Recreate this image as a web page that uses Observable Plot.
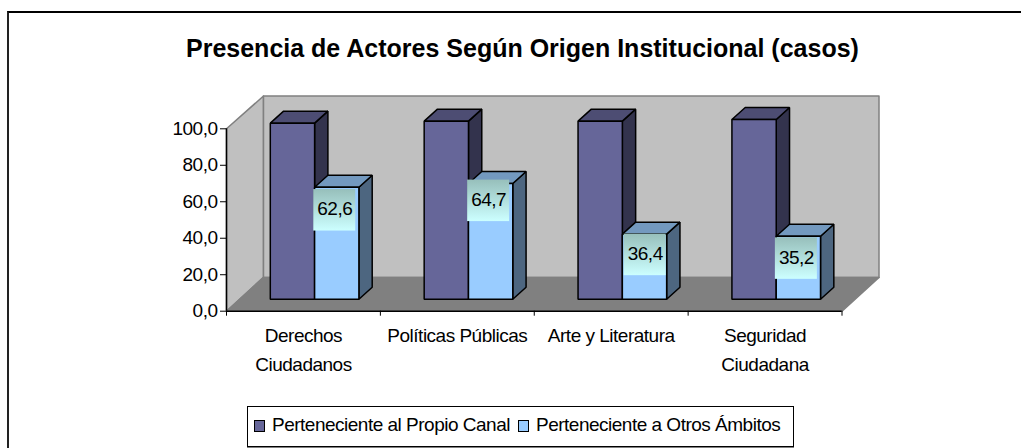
<!DOCTYPE html>
<html lang="es">
<head>
<meta charset="utf-8">
<script src="https://cdn.jsdelivr.net/npm/d3@7"></script>
<script src="https://cdn.jsdelivr.net/npm/@observablehq/plot@0.6"></script>
<style>
  html, body { margin: 0; padding: 0; background: #fff; width: 1021px; height: 448px; overflow: hidden; }
  body { position: relative; font-family: "Liberation Sans", Arial, sans-serif; color: #000; }
  #frame { position: absolute; left: 7px; top: 11px; right: -5px; bottom: -5px; border-left: 2px solid #222; border-top: 2px solid #000; }
  #chart { position: absolute; left: 0; top: 0; }
  #chart svg { letter-spacing: -0.5px; }
  #title { position: absolute; left: 186px; top: 33px; font-size: 25px; font-weight: bold; line-height: 30px; white-space: nowrap; }
  #legend { position: absolute; left: 247px; top: 406px; width: 545px; height: 39px; border: 1px solid #000; box-shadow: 0 1px 0 #808080; background: #fff; font-size: 19px; letter-spacing: -0.5px; line-height: 35px; white-space: nowrap; }
  #legend span { position: absolute; top: 0; }
  #legend i { position: absolute; top: 13px; width: 9px; height: 10px; border: 1.5px solid #000; }
</style>
</head>
<body>
<div id="frame"></div>
<div id="chart"></div>
<div id="title"></div>
<div id="legend"></div>
<script>
const chartTitle = "Presencia de Actores Según Origen Institucional (casos)";
const categories = ["Derechos\nCiudadanos", "Políticas Públicas", "Arte y Literatura", "Seguridad\nCiudadana"];
const seriesNames = ["Perteneciente al Propio Canal", "Perteneciente a Otros Ámbitos"];
const propioCanal = [98.5, 99.6, 99.6, 100.5];
const otrosAmbitos = [62.6, 64.7, 36.4, 35.2];
const yTicks = [0, 20, 40, 60, 80, 100];

// Layout of the pseudo-3D box, in units of the x (category) and y (value) scales
const pxX = 153.875, pxY = 1.824;
const barLeft = 43.8 / pxX, barW = 44.3 / pxX;
const depthX = 13.3 / pxX, depthY = 12 / pxY;   // bar depth
const wallX = 37 / pxX, wallY = 33.8 / pxY;     // box depth
const wallTop = 118;
const foreshorten = 0.98;
const colors = [
  { front: "#666699", side: "#33334d", top: "#4d4d73" },
  { front: "#99ccff", side: "#4d6680", top: "#7399bf" }
];
const labelShiftX = [-2, -2, 0.7, -2].map(d => d / pxX);
const labelShiftY = [23, 17.3, 20.8, 22.3].map(d => d / pxY);
const labelW = 42 / pxX, labelH = 41.5 / pxY;

const front = v => depthY + v * foreshorten;

function poly(rows, id, fill, pts) { pts.forEach(([x, y]) => rows.push({ id, fill, x, y })); }

const barFaces = [];
[propioCanal, otrosAmbitos].forEach((vals, s) => {
  vals.forEach((v, i) => {
    const x0 = i + barLeft + s * barW, x1 = x0 + barW, y0 = front(0), y1 = front(v), c = colors[s];
    poly(barFaces, `${i}-${s}-side`, c.side, [[x1, y0], [x1 + depthX, y0 + depthY], [x1 + depthX, y1 + depthY], [x1, y1]]);
    poly(barFaces, `${i}-${s}-top`, c.top, [[x0, y1], [x0 + depthX, y1 + depthY], [x1 + depthX, y1 + depthY], [x1, y1]]);
    poly(barFaces, `${i}-${s}-front`, c.front, [[x0, y0], [x1, y0], [x1, y1], [x0, y1]]);
  });
});
// series drawn group by group: each category's first bar, then its second
const orderedFaces = d3.sort(barFaces, d => +d.id.split("-")[0] * 2 + +d.id.split("-")[1]);

const walls = [];
poly(walls, "left", "#c0c0c0", [[0, 0], [wallX, wallY], [wallX, wallTop], [0, 100]]);
poly(walls, "back", "#c0c0c0", [[wallX, wallY], [4 + wallX, wallY], [4 + wallX, wallTop], [wallX, wallTop]]);
poly(walls, "floor", "#808080", [[0, 0], [4, 0], [4 + wallX, wallY], [wallX, wallY]]);

const labels = otrosAmbitos.map((v, i) => {
  const cx = i + barLeft + 1.5 * barW + labelShiftX[i];
  const cy = front(v) - labelShiftY[i];
  return { i, v, cx, cy };
});

const gradient = () => {
  const ns = "http://www.w3.org/2000/svg";
  const defs = document.createElementNS(ns, "defs");
  defs.innerHTML = '<linearGradient id="lbl" x1="0" y1="0" x2="0" y2="1"><stop offset="0" stop-color="#97bfbb"/><stop offset="1" stop-color="#ccffff"/></linearGradient>';
  return defs;
};

const plot = Plot.plot({
  width: 1021, height: 448,
  marginLeft: 226, marginRight: 179.5, marginTop: 128.3, marginBottom: 137.3,
  style: { background: "transparent", fontFamily: "'Liberation Sans', Arial, sans-serif" },
  x: { type: "linear", domain: [0, 4], axis: null },
  y: { domain: [0, 100], axis: null },
  marks: [
    gradient,
    Plot.line(walls, { x: "x", y: "y", z: "id", fill: "fill", stroke: "#808080", strokeWidth: 1.5, curve: "linear-closed" }),
    Plot.line(orderedFaces, { x: "x", y: "y", z: "id", fill: "fill", stroke: "#000", strokeWidth: 1.5, strokeLinejoin: "miter", curve: "linear-closed" }),
    Plot.rect(labels, { x1: d => d.cx - labelW / 2, x2: d => d.cx + labelW / 2, y1: d => d.cy - labelH / 2, y2: d => d.cy + labelH / 2, fill: "url(#lbl)" }),
    Plot.text(labels, { x: "cx", y: "cy", text: d => d.v.toFixed(1).replace(".", ","), fontSize: 19, fill: "#000", dy: -1 }),
    Plot.ruleY([0], { x1: 0, x2: 4, stroke: "#000", strokeWidth: 1.5 }),
    Plot.ruleX([0], { y1: 0, y2: 100, stroke: "#000", strokeWidth: 1.5 }),
    Plot.ruleX(d3.range(5), { x: d => d, y1: 0, y2: -5 / pxY, stroke: "#000" }),
    Plot.axisY({ ticks: yTicks, tickFormat: d => d.toFixed(1).replace(".", ","), tickSize: 6, tickPadding: 3, fontSize: 19, label: null, stroke: "#000", fill: "#000" }),
    Plot.text(categories, { x: (d, i) => i + 0.5, y: 0, text: d => d, lineAnchor: "top", lineHeight: 1.5, fontSize: 19, fill: "#000", dy: 11 })
  ]
});
document.getElementById("chart").append(plot);
document.getElementById("title").textContent = chartTitle;
const legend = document.getElementById("legend");
seriesNames.forEach((name, s) => {
  const sw = document.createElement("i");
  sw.style.left = [6, 270][s] + "px";
  sw.style.background = colors[s].front;
  const t = document.createElement("span");
  t.style.left = [24, 288][s] + "px";
  t.textContent = name;
  legend.append(sw, t);
});
</script>
</body>
</html>
